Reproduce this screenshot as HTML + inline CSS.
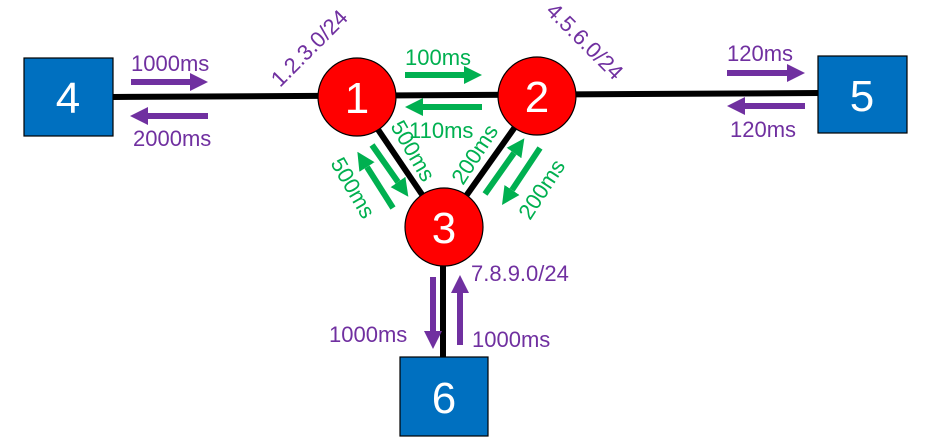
<!DOCTYPE html>
<html><head><meta charset="utf-8"><style>
html,body{margin:0;padding:0;background:#fff;}
svg{display:block;font-family:"Liberation Sans",Arial,sans-serif;}
</style></head><body>
<svg width="942" height="438" viewBox="0 0 942 438">
<defs>
<marker id="hp" markerWidth="3" markerHeight="3" refX="0" refY="1.5" orient="auto" markerUnits="strokeWidth" viewBox="0 0 3 3"><path d="M0,0 L3,1.5 L0,3 Z" fill="#7030a0"/></marker>
<marker id="hg" markerWidth="3" markerHeight="3" refX="0" refY="1.5" orient="auto" markerUnits="strokeWidth" viewBox="0 0 3 3"><path d="M0,0 L3,1.5 L0,3 Z" fill="#00b050"/></marker>
</defs>
<g stroke="#000" stroke-width="6">
<line x1="112" y1="97" x2="820" y2="93"/>
<line x1="356" y1="97" x2="444" y2="227"/>
<line x1="537" y1="96" x2="444" y2="227"/>
<line x1="443" y1="227" x2="443" y2="358"/>
</g>
<g stroke="#7030a0" stroke-width="6">
<line x1="131" y1="82" x2="190" y2="82" marker-end="url(#hp)"/>
<line x1="208" y1="116" x2="148" y2="116" marker-end="url(#hp)"/>
<line x1="727" y1="73" x2="787" y2="73" marker-end="url(#hp)"/>
<line x1="805" y1="106" x2="745" y2="106" marker-end="url(#hp)"/>
<line x1="433" y1="277" x2="433" y2="331" marker-end="url(#hp)"/>
<line x1="460" y1="345" x2="460" y2="293" marker-end="url(#hp)"/>
</g>
<g stroke="#00b050" stroke-width="6">
<line x1="405" y1="75" x2="464" y2="75" marker-end="url(#hg)"/>
<line x1="482" y1="107" x2="423" y2="107" marker-end="url(#hg)"/>
<line x1="393" y1="208" x2="367" y2="167" marker-end="url(#hg)"/>
<line x1="372" y1="145" x2="398" y2="182" marker-end="url(#hg)"/>
<line x1="485" y1="194" x2="514" y2="153" marker-end="url(#hg)"/>
<line x1="540" y1="148" x2="512" y2="190" marker-end="url(#hg)"/>
</g>
<g stroke="#000" stroke-width="1.2">
<circle cx="357" cy="97" r="39" fill="#ff0000"/>
<circle cx="537" cy="96" r="39" fill="#ff0000"/>
<circle cx="444" cy="227" r="39" fill="#ff0000"/>
</g>
<g stroke="#000" stroke-width="1.2" fill="#0070c0">
<rect x="24" y="58" width="89" height="78"/>
<rect x="818" y="56" width="89" height="77"/>
<rect x="400" y="357" width="88" height="79"/>
</g>
<g fill="#fff" font-size="44" text-anchor="middle">
<text x="357" y="113">1</text>
<text x="537" y="112">2</text>
<text x="444" y="243">3</text>
<text x="68" y="113">4</text>
<text x="862" y="111">5</text>
<text x="444" y="413">6</text>
</g>
<g fill="#7030a0" font-size="22">
<text x="131" y="71">1000ms</text>
<text x="133" y="146">2000ms</text>
<text x="727" y="61">120ms</text>
<text x="730" y="137">120ms</text>
<text x="329" y="342">1000ms</text>
<text x="472" y="347">1000ms</text>
<text x="471" y="281">7.8.9.0/24</text>
<text transform="translate(280,88) rotate(-45)">1.2.3.0/24</text>
<text transform="translate(545,12) rotate(45)">4.5.6.0/24</text>
</g>
<g fill="#00b050" font-size="22">
<text x="405" y="65">100ms</text>
<text x="409" y="138">110ms</text>
<text transform="translate(390,126) rotate(60)">500ms</text>
<text transform="translate(330,163) rotate(60)">500ms</text>
<text transform="translate(463,186) rotate(-57)">200ms</text>
<text transform="translate(530,221) rotate(-57)">200ms</text>
</g>
</svg>
</body></html>
